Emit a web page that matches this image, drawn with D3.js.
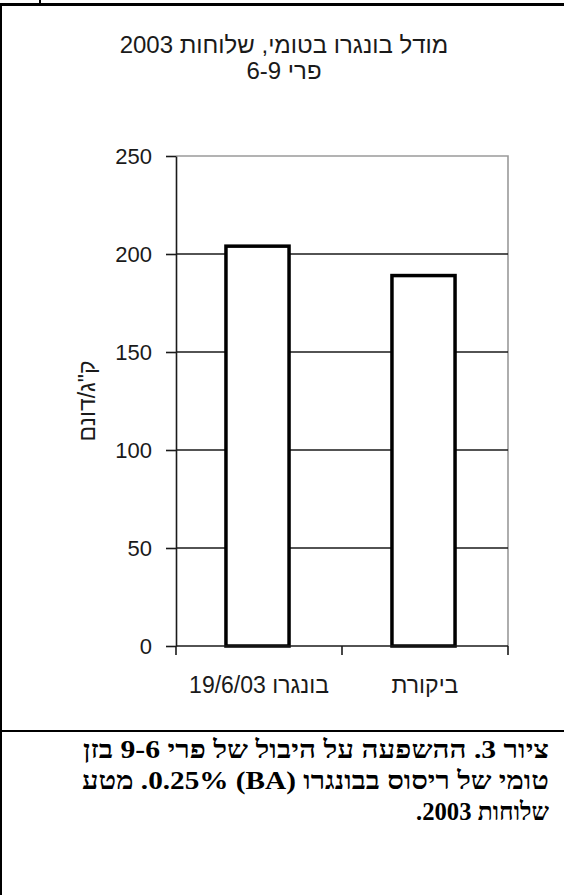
<!DOCTYPE html>
<html>
<head>
<meta charset="utf-8">
<script src="https://cdn.jsdelivr.net/npm/d3@7"></script>
<style>
  body { margin: 0; background: #fff; }
  svg text { font-family: "Liberation Sans", Arial, sans-serif; }
</style>
</head>
<body>
<svg id="chart" width="564" height="895"></svg>
<script>
// Yield of 6-9 fruit, Bongaro spray vs. control (kg/dunam)
const categories = ["בונגרו 19/6/03", "ביקורת"];
const yields = [204, 189];
const yTicks = [0, 50, 100, 150, 200, 250];
const titleLines = ["מודל בונגרו בטומי, שלוחות 2003", "פרי 6-9"];
const yLabel = 'ק"ג/דונם';
const captionLines = [
  "ציור 3. ההשפעה על היבול של פרי 6\u20109 בזן",
  "טומי של ריסוס בבונגרו (BA) 0.25%. מטע",
  "שלוחות 2003."
];

const svg = d3.select("#chart");
const plot = { left: 176, right: 508, top: 156, bottom: 646 };
const ink = "#1a1a1a";

// table frame around the figure
const frame = svg.append("g").attr("stroke", "#000").attr("fill", "none");
frame.append("line").attr("x1", 0).attr("x2", 564).attr("y1", 4.5).attr("y2", 4.5).attr("stroke-width", 3);
frame.append("line").attr("x1", 40).attr("x2", 40).attr("y1", 0).attr("y2", 4).attr("stroke-width", 2);
frame.append("line").attr("x1", 1).attr("x2", 1).attr("y1", 4).attr("y2", 895).attr("stroke-width", 2);
frame.append("line").attr("x1", 0).attr("x2", 564).attr("y1", 731).attr("y2", 731).attr("stroke-width", 2);

// scales
const y = d3.scaleLinear().domain([0, 250]).range([plot.bottom, plot.top]);
const slot = d3.scaleBand().domain(categories).range([plot.left, plot.right]);
const x = d3.scaleBand().domain(categories).range([plot.left, plot.right])
  .paddingInner(0.62).paddingOuter(0.31);

// title
svg.append("g").selectAll("text").data(titleLines).join("text")
  .attr("x", 284).attr("y", (d, i) => 53 + i * 26)
  .attr("text-anchor", "middle").attr("direction", "rtl")
  .attr("font-size", 24).attr("fill", ink)
  .text(d => d);

// plot border (top and right, grey)
svg.append("path")
  .attr("d", `M${plot.left},${plot.top}H${plot.right}V${plot.bottom}`)
  .attr("fill", "none").attr("stroke", "#9a9a9a").attr("stroke-width", 1.6);

// horizontal gridlines
svg.append("g").selectAll("line").data(yTicks.filter(t => t > 0 && t < 250)).join("line")
  .attr("x1", plot.left).attr("x2", plot.right)
  .attr("y1", d => y(d)).attr("y2", d => y(d))
  .attr("stroke", ink).attr("stroke-width", 1.6);

// y axis
const yAxis = svg.append("g").attr("transform", `translate(${plot.left},0)`)
  .call(d3.axisLeft(y).tickValues(yTicks).tickSize(10).tickSizeOuter(0).tickPadding(14));
yAxis.selectAll("path, line").attr("stroke", ink).attr("stroke-width", 1.6);
yAxis.selectAll("text").attr("font-size", 22).attr("fill", ink)
  .attr("font-family", "'Liberation Sans', Arial, sans-serif");

// bars
svg.append("g").selectAll("rect").data(yields).join("rect")
  .attr("x", (d, i) => x(categories[i]) - 1.5)
  .attr("width", x.bandwidth())
  .attr("y", d => y(d))
  .attr("height", d => y(0) - y(d))
  .attr("fill", "#fff").attr("stroke", "#000").attr("stroke-width", 3.5);

// x axis with ticks at category boundaries
const bounds = categories.map(c => slot(c)).concat([plot.right]);
svg.append("line").attr("x1", plot.left).attr("x2", plot.right)
  .attr("y1", y(0)).attr("y2", y(0))
  .attr("stroke", ink).attr("stroke-width", 1.6);
svg.append("g").selectAll("line").data(bounds).join("line")
  .attr("x1", d => d).attr("x2", d => d)
  .attr("y1", y(0)).attr("y2", y(0) + 9)
  .attr("stroke", ink).attr("stroke-width", 1.6);
svg.append("g").selectAll("text").data(categories).join("text")
  .attr("x", d => slot(d) + slot.bandwidth() / 2)
  .attr("y", y(0) + 47)
  .attr("text-anchor", "middle").attr("direction", "rtl")
  .attr("font-size", 23).attr("fill", ink)
  .text(d => d);

// y axis title
svg.append("text")
  .attr("transform", `translate(95,${(plot.top + plot.bottom) / 2}) rotate(-90)`)
  .attr("text-anchor", "middle").attr("direction", "rtl")
  .attr("font-size", 23).attr("fill", ink)
  .text(yLabel);

// caption
const captionWidths = [466, 467, 133];
svg.append("g").selectAll("text").data(captionLines).join("text")
  .attr("x", 549).attr("y", (d, i) => 758 + i * 31)
  .attr("direction", "rtl").attr("text-anchor", "start")
  .attr("font-size", 25).attr("font-weight", "bold").attr("fill", "#000")
  .attr("textLength", (d, i) => captionWidths[i])
  .attr("lengthAdjust", "spacingAndGlyphs")
  .style("font-family", "'Liberation Serif', 'Times New Roman', serif")
  .text(d => d);
</script>
</body>
</html>
